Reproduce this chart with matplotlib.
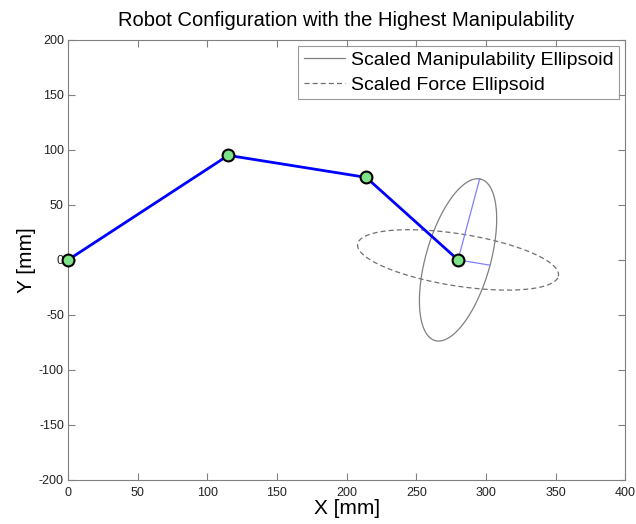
import matplotlib.pyplot as plt
import numpy as np

plt.rcParams['font.family'] = ['Liberation Sans', 'DejaVu Sans']
plt.rcParams['axes.unicode_minus'] = False

# joint positions of the planar arm [mm]
joint_x = [0, 115, 214, 280]
joint_y = [0, 95, 75, 0]

# principal semi-axes of the manipulability ellipse at the end effector [mm]
manip_major = [15.5, 73.6]
manip_minor = [23.0, -4.8]
# force ellipse shares the axes, lengths are swapped
force_major = [72.0, -15.0]
force_minor = [4.9, 23.0]

x_ticks = [0, 50, 100, 150, 200, 250, 300, 350, 400]
y_ticks = [-200, -150, -100, -50, 0, 50, 100, 150, 200]


def ellipse(cx, cy, a, b, n=200):
    t = np.linspace(0, 2 * np.pi, n)
    a = np.asarray(a)
    b = np.asarray(b)
    pts = np.outer(np.cos(t), a) + np.outer(np.sin(t), b)
    return cx + pts[:, 0], cy + pts[:, 1]


fig = plt.figure(figsize=(6.36, 5.24), dpi=100)
ax = fig.add_axes([0.107, 0.084, 0.876, 0.84])

ex, ey = joint_x[-1], joint_y[-1]

mx, my = ellipse(ex, ey, manip_major, manip_minor)
fx, fy = ellipse(ex, ey, force_major, force_minor)
ax.plot(mx, my, color='#808080', linewidth=0.9, label='Scaled Manipulability Ellipsoid')
ax.plot(fx, fy, color='#707070', linewidth=0.9, linestyle=(0, (4, 2.5)), label='Scaled Force Ellipsoid')

# principal axes of the manipulability ellipse
ax.plot([ex, ex + manip_major[0]], [ey, ey + manip_major[1]], color='#8080ff', linewidth=0.9)
ax.plot([ex, ex + manip_minor[0]], [ey, ey + manip_minor[1]], color='#8080ff', linewidth=0.9)

ax.plot(joint_x, joint_y, color='#0000ff', linewidth=2, zorder=4)
ax.plot(joint_x, joint_y, 'o', markersize=8.5, markerfacecolor='#7fe38a',
        markeredgecolor='black', markeredgewidth=1.5, clip_on=False, zorder=5)

ax.set_xlim(0, 400)
ax.set_ylim(-200, 200)
ax.set_xticks(x_ticks)
ax.set_yticks(y_ticks)
ax.tick_params(direction='in', top=True, right=True, labelsize=9, length=5,
               color='#808080', labelcolor='#222222', pad=3)
ax.tick_params(axis='x', pad=5)
for s in ax.spines.values():
    s.set_color('#808080')

ax.set_xlabel('X [mm]', fontsize=15, labelpad=0)
ax.set_ylabel('Y [mm]', fontsize=15, labelpad=2)
ax.set_title('Robot Configuration with the Highest Manipulability', fontsize=14.5, pad=10)

leg = ax.legend(loc='upper right', fontsize=14, frameon=True, fancybox=False,
                borderaxespad=0.3, handlelength=2.1, handletextpad=0.3,
                borderpad=0.3, labelspacing=0.35)
leg.get_frame().set_edgecolor('#808080')
leg.get_frame().set_linewidth(0.8)

fig.savefig('out.png', dpi=100)
